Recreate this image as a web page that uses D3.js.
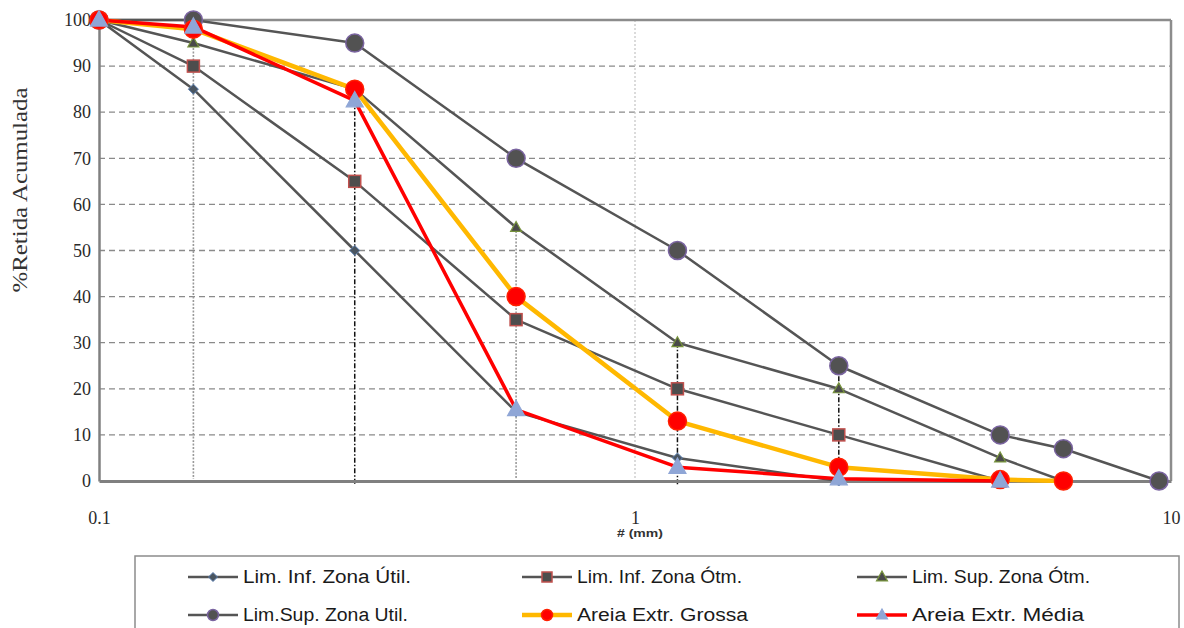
<!DOCTYPE html>
<html><head><meta charset="utf-8">
<script src="https://cdn.jsdelivr.net/npm/d3@7"></script>
<style>body{margin:0;background:#fff}svg{display:block}</style>
</head><body>
<svg id="c" width="1184" height="628"></svg>
<script>
// ---- data ----
const sieves = [0.1, 0.15, 0.3, 0.6, 1.2, 2.4, 4.8, 6.3, 9.5];
const limInfUtil = [100, 85, 50, 15, 5, 0, null, null, null];
const limInfOtm  = [100, 90, 65, 35, 20, 10, 0, null, null];
const limSupOtm  = [100, 95, 85, 55, 30, 20, 5, 0, null];
const limSupUtil = [100, 100, 95, 70, 50, 25, 10, 7, 0];
const areiaGrossa = [100, 98, 85, 40, 13, 3, 0.3, 0, null];
const areiaMedia  = [100, 98.5, 82.5, 15.5, 3, 0.5, 0, null, null];
const seriesNames = ["Lim. Inf. Zona Útil.", "Lim. Inf. Zona Ótm.", "Lim. Sup. Zona Ótm.",
                     "Lim.Sup. Zona Util.", "Areia Extr. Grossa", "Areia Extr. Média"];
const yTicks = [0,10,20,30,40,50,60,70,80,90,100];
const xTicks = [0.1, 1, 10];
const xTickLabels = ["0.1", "1", "10"];
const yTitle = "%Retida Acumulada";
const xTitle = "# (mm)";
// drop lines: sieve and top value
const grayDropSieves = [0.15, 0.6];
const grayDropTops = [100, 55];
const blackDropSieves = [0.3, 1.2, 2.4];
const blackDropTops = [82.5, 30, 25];

// ---- drawing ----
const svg = d3.select("#c");
const x = d3.scaleLog().domain([0.1, 10]).range([99, 1171]);
const y = d3.scaleLinear().domain([0, 100]).range([481, 20]);

svg.append("g").selectAll("line").data(yTicks.filter(v => v > 0 && v < 100)).join("line")
  .attr("x1", x(0.1)).attr("x2", x(10)).attr("y1", d => y(d)).attr("y2", d => y(d))
  .attr("stroke", "#8a8a8a").attr("stroke-width", 1.3).attr("stroke-dasharray", "6,4");
svg.append("line").attr("x1", x(1)).attr("x2", x(1)).attr("y1", y(100)).attr("y2", y(0))
  .attr("stroke", "#c4c4c4").attr("stroke-width", 1.2).attr("stroke-dasharray", "2,2");
svg.append("g").selectAll("line").data(grayDropSieves).join("line")
  .attr("x1", d => x(d)).attr("x2", d => x(d))
  .attr("y1", (d, i) => y(grayDropTops[i])).attr("y2", y(0) - 2)
  .attr("stroke", "#9a9a9a").attr("stroke-width", 1.6).attr("stroke-dasharray", "2,1.5");
svg.append("g").selectAll("line").data(blackDropSieves).join("line")
  .attr("x1", d => x(d)).attr("x2", d => x(d))
  .attr("y1", (d, i) => y(blackDropTops[i])).attr("y2", y(0) + 4)
  .attr("stroke", "#111").attr("stroke-width", 1.5).attr("stroke-dasharray", "5,2,1.5,2");

svg.append("line").attr("x1", x(0.1)).attr("x2", x(10)).attr("y1", y(100)).attr("y2", y(100))
  .attr("stroke", "#8c8c8c").attr("stroke-width", 2.5);
svg.append("line").attr("x1", x(10)).attr("x2", x(10)).attr("y1", y(100)).attr("y2", y(0))
  .attr("stroke", "#8c8c8c").attr("stroke-width", 2.5);

const yAxis = svg.append("g").attr("transform", `translate(${x(0.1)},0)`)
  .call(d3.axisLeft(y).tickValues(yTicks).tickSize(0).tickPadding(8).tickFormat(d3.format("d")));
yAxis.select(".domain").attr("stroke", "#808080").attr("stroke-width", 2.5);
yAxis.selectAll("text").attr("font-family", "Liberation Serif, serif").attr("font-size", 18).attr("fill", "#2a2a2a");

const xAxis = svg.append("g").attr("transform", `translate(0,${y(0)})`)
  .call(d3.axisBottom(x).tickValues(xTicks).tickSize(0).tickPadding(30).tickFormat((d, i) => xTickLabels[i]));
xAxis.select(".domain").attr("stroke", "#808080").attr("stroke-width", 3);
xAxis.selectAll("text").attr("font-family", "Liberation Serif, serif").attr("font-size", 18).attr("fill", "#2a2a2a");

svg.append("text").attr("transform", "translate(27,190) rotate(-90)").attr("text-anchor", "middle")
  .attr("font-family", "Liberation Serif, serif").attr("font-size", 21).attr("fill", "#333")
  .attr("textLength", 205).attr("lengthAdjust", "spacingAndGlyphs").text(yTitle);
svg.append("text").attr("x", 640).attr("y", 537).attr("text-anchor", "middle")
  .attr("font-family", "Liberation Sans, sans-serif").attr("font-weight", "bold").attr("font-size", 10.5)
  .attr("fill", "#333").attr("textLength", 46).attr("lengthAdjust", "spacingAndGlyphs").text(xTitle);

const GRAY = "#555555";
const series = [
  {name: seriesNames[0], vals: limInfUtil, color: GRAY, w: 2.5, marker: "diamond", fill: "#4a5560", stroke: "#5b7fb0", size: 5},
  {name: seriesNames[1], vals: limInfOtm, color: GRAY, w: 2.5, marker: "square", fill: "#4d4d4d", stroke: "#c0504d", size: 12},
  {name: seriesNames[2], vals: limSupOtm, color: GRAY, w: 2.5, marker: "triangle", fill: "#4a4a4a", stroke: "#77933c", size: 11},
  {name: seriesNames[3], vals: limSupUtil, color: GRAY, w: 2.5, marker: "circle", fill: "#525252", stroke: "#7a64a0", size: 9},
  {name: seriesNames[4], vals: areiaGrossa, color: "#ffb800", w: 4.5, marker: "circle", fill: "#ff0000", stroke: "#ff2000", size: 9},
  {name: seriesNames[5], vals: areiaMedia, color: "#ff0000", w: 3.5, marker: "triangle", fill: "#8fa6d6", stroke: "#8fa6d6", size: 17}
];

function drawMarker(g, type, cx, cy, s, fill, stroke) {
  if (type === "circle") {
    g.append("circle").attr("cx", cx).attr("cy", cy).attr("r", s).attr("fill", fill).attr("stroke", stroke).attr("stroke-width", 1.5);
  } else if (type === "square") {
    g.append("rect").attr("x", cx - s/2).attr("y", cy - s/2).attr("width", s).attr("height", s)
      .attr("fill", fill).attr("stroke", stroke).attr("stroke-width", 1.5);
  } else if (type === "triangle") {
    const h = s * 0.9;
    g.append("path").attr("d", `M${cx},${cy - h*0.6}L${cx + s/2},${cy + h*0.4}L${cx - s/2},${cy + h*0.4}Z`)
      .attr("fill", fill).attr("stroke", stroke).attr("stroke-width", 1.2);
  } else if (type === "diamond") {
    g.append("path").attr("d", `M${cx},${cy - s}L${cx + s},${cy}L${cx},${cy + s}L${cx - s},${cy}Z`)
      .attr("fill", fill).attr("stroke", stroke).attr("stroke-width", 1);
  }
}

const line = d3.line().defined(d => d[1] !== null).x(d => x(d[0])).y(d => y(d[1]));
const linesG = svg.append("g");
const marksG = svg.append("g");
series.forEach(s => {
  const pts = sieves.map((v, i) => [v, s.vals[i]]);
  linesG.append("path").datum(pts).attr("d", line).attr("fill", "none")
    .attr("stroke", s.color).attr("stroke-width", s.w).attr("stroke-linejoin", "round");
});
series.forEach(s => {
  const g = marksG.append("g");
  sieves.forEach((v, i) => {
    if (s.vals[i] === null) return;
    drawMarker(g, s.marker, x(v), y(s.vals[i]), s.size, s.fill, s.stroke);
  });
});

const lg = svg.append("g");
lg.append("rect").attr("x", 135).attr("y", 556).attr("width", 1044).attr("height", 90)
  .attr("fill", "#fff").attr("stroke", "#8c8c8c").attr("stroke-width", 1.5);
const colX = [188, 522, 857];
const rowY = [577, 615];
const textLens = [168, 165, 178, 165, 171, 172];
series.forEach((s, i) => {
  const cx = colX[i % 3], cy = rowY[Math.floor(i / 3)];
  lg.append("line").attr("x1", cx).attr("x2", cx + 50).attr("y1", cy).attr("y2", cy)
    .attr("stroke", s.color).attr("stroke-width", s.w);
  const ms = s.marker === "circle" ? 5.5 : s.marker === "triangle" ? 11 : s.marker === "square" ? 10 : 4.5;
  drawMarker(lg, s.marker, cx + 25, cy, ms, s.fill, s.stroke);
  lg.append("text").attr("x", cx + 55).attr("y", cy + 6).attr("font-family", "Liberation Sans Narrow, Liberation Sans, sans-serif")
    .attr("font-size", 18).attr("fill", "#1a1a1a").attr("textLength", textLens[i])
    .attr("lengthAdjust", "spacingAndGlyphs").text(s.name);
});
</script>
</body></html>
